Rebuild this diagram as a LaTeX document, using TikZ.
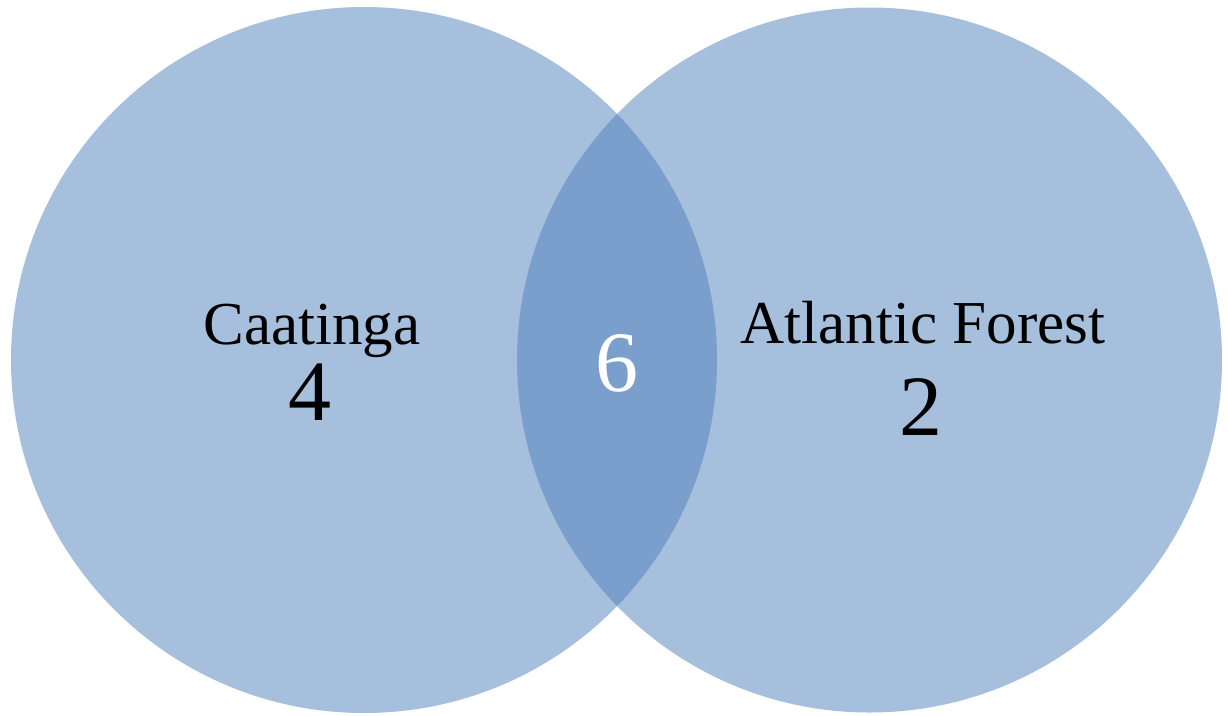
\documentclass[tikz,border=0pt]{standalone}
\usepackage{fontspec}
\setmainfont{Liberation Serif}
\definecolor{vennblue}{HTML}{4F81BD}
\begin{document}
\begin{tikzpicture}[x=1pt,y=-1pt,
  setcircle/.style={fill=vennblue,fill opacity=0.5,draw=none},
  setlabel/.style={anchor=base,inner sep=0pt,font=\fontsize{61}{61}\selectfont,text=black},
  count/.style={anchor=base,inner sep=0pt,font=\fontsize{86}{86}\selectfont,text=black}]
\useasboundingbox (0,0) rectangle (1228,715);
\fill[white] (0,0) rectangle (1228,715);
\path[setcircle] (364,360) circle[radius=353];
\path[setcircle] (869.5,360) circle[radius=352.5];
\node[setlabel] (caat) at (312,344) {Caatinga};
\node[count] (four) at (310,420) {4};
\node[count,text=white] (six) at (617,391) {6};
\node[setlabel] (atl) at (923,343) {Atlantic Forest};
\node[count] (two) at (921,435) {2};
\end{tikzpicture}
\end{document}
